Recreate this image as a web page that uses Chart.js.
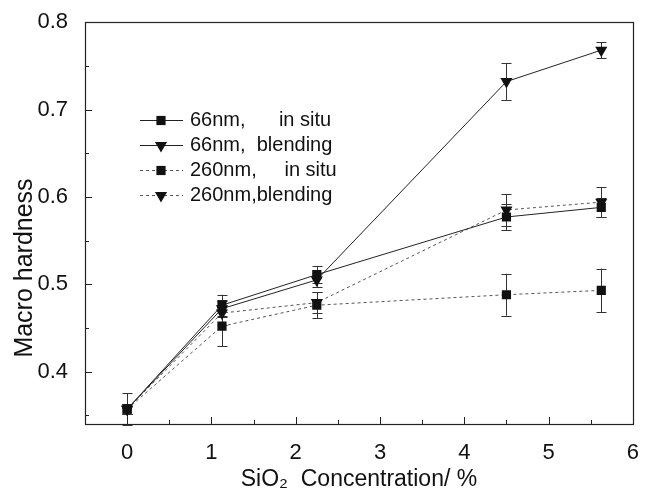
<!DOCTYPE html>
<html>
<head>
<meta charset="utf-8">
<script src="https://cdn.jsdelivr.net/npm/chart.js@4.4.1/dist/chart.umd.min.js"></script>
<style>
  html, body { margin: 0; padding: 0; background: #fff; }
  #wrap { width: 647px; height: 493px; }
</style>
</head>
<body>
<div id="wrap"><canvas id="c" width="647" height="493"></canvas></div>
<script>
// ---- data ----
const concentrations = [0, 1.125, 2.25, 4.5, 5.625];
const seriesLabels = ["66nm,      in situ", "66nm,  blending", "260nm,     in situ", "260nm,blending"];
const hardness66InSitu = [0.357, 0.476, 0.511, 0.577, 0.588];
const hardness66Blend = [0.357, 0.472, 0.505, 0.732, 0.768];
const hardness260InSitu = [0.357, 0.452, 0.476, 0.488, 0.493];
const hardness260Blend = [0.357, 0.467, 0.479, 0.585, 0.594];
const err66InSitu = [0.018, 0.012, 0.010, 0.015, 0.011];
const err66Blend = [0.006, 0.010, 0.008, 0.021, 0.009];
const err260InSitu = [0.006, 0.023, 0.015, 0.024, 0.025];
const err260Blend = [0.006, 0.014, 0.012, 0.018, 0.017];
const xTickValues = [0, 1, 2, 3, 4, 5, 6];
const yTickValues = [0.4, 0.5, 0.6, 0.7, 0.8];
const xTitle = "SiO\u2082  Concentration/ %";
const yTitle = "Macro hardness";

const FONT = "'Liberation Sans', Arial, Helvetica, sans-serif";

function pts(ys) { return ys.map((y, i) => ({ x: concentrations[i], y: y })); }

const seriesDefs = [
  { ys: hardness66InSitu, err: err66InSitu, marker: 'rect', dash: [], rot: 0 },
  { ys: hardness66Blend, err: err66Blend, marker: 'triangle', dash: [], rot: 180 },
  { ys: hardness260InSitu, err: err260InSitu, marker: 'rect', dash: [3, 3], rot: 0 },
  { ys: hardness260Blend, err: err260Blend, marker: 'triangle', dash: [3, 3], rot: 180 }
];

const datasets = seriesDefs.map((s, i) => ({
  label: seriesLabels[i],
  data: pts(s.ys),
  errors: s.err,
  showLine: true,
  borderColor: i < 2 ? '#222' : '#555',
  borderWidth: 1,
  borderDash: s.dash,
  pointStyle: s.marker,
  rotation: s.rot,
  pointRadius: s.marker === 'rect' ? 6.5 : 7,
  pointBackgroundColor: '#111',
  pointBorderColor: '#111',
  pointBorderWidth: 0,
  tension: 0
}));

const errorBarPlugin = {
  id: 'errorBars',
  beforeDatasetsDraw(chart) {
    const ctx = chart.ctx;
    const xs = chart.scales.x, ys = chart.scales.y;
    ctx.save();
    ctx.strokeStyle = '#333';
    ctx.lineWidth = 1;
    chart.data.datasets.forEach(ds => {
      ds.data.forEach((p, i) => {
        const e = ds.errors[i];
        const px = Math.round(xs.getPixelForValue(p.x)) + 0.5;
        const top = ys.getPixelForValue(p.y + e);
        const bot = ys.getPixelForValue(p.y - e);
        ctx.beginPath();
        ctx.moveTo(px, top); ctx.lineTo(px, bot);
        ctx.moveTo(px - 5, Math.round(top) + 0.5); ctx.lineTo(px + 5, Math.round(top) + 0.5);
        ctx.moveTo(px - 5, Math.round(bot) + 0.5); ctx.lineTo(px + 5, Math.round(bot) + 0.5);
        ctx.stroke();
      });
    });
    ctx.restore();
  }
};

const framePlugin = {
  id: 'frame',
  afterDraw(chart) {
    const ctx = chart.ctx;
    const a = chart.chartArea;
    const xs = chart.scales.x, ys = chart.scales.y;
    ctx.save();
    ctx.strokeStyle = '#222';
    ctx.lineWidth = 1.2;
    ctx.strokeRect(Math.round(a.left) + 0.5, Math.round(a.top) + 0.5,
                   Math.round(a.right - a.left), Math.round(a.bottom - a.top));
    ctx.lineWidth = 1;
    ctx.beginPath();
    for (let v = -0.5; v <= 6.0001; v += 0.5) {
      const px = Math.round(xs.getPixelForValue(v)) + 0.5;
      const major = Math.abs(v - Math.round(v)) < 1e-6;
      const len = major ? 7 : 4;
      ctx.moveTo(px, a.bottom); ctx.lineTo(px, a.bottom - len);
    }
    for (let v = 0.35; v <= 0.8001; v += 0.05) {
      const py = Math.round(ys.getPixelForValue(v)) + 0.5;
      const major = Math.abs(v * 10 - Math.round(v * 10)) < 1e-6;
      const len = major ? 7 : 4;
      ctx.moveTo(a.left, py); ctx.lineTo(a.left + len, py);
    }
    ctx.stroke();
    // y-axis title (placed slightly below the axis centre, as in the reference)
    ctx.translate(25, 268);
    ctx.rotate(-Math.PI / 2);
    ctx.font = "25px " + FONT;
    ctx.fillStyle = '#111';
    ctx.textAlign = 'center';
    ctx.textBaseline = 'middle';
    ctx.fillText(yTitle, 0, 0);
    ctx.restore();
  }
};

const legendPlugin = {
  id: 'insideLegend',
  afterDraw(chart) {
    const ctx = chart.ctx;
    const x0 = 140, x1 = 183, mx = 161, tx = 190;
    const y0 = 120, dy = 25;
    ctx.save();
    ctx.font = "20px " + FONT;
    ctx.textBaseline = 'middle';
    chart.data.datasets.forEach((ds, i) => {
      const y = y0 + i * dy + 0.5;
      ctx.strokeStyle = ds.borderColor;
      ctx.lineWidth = 1;
      ctx.setLineDash(ds.borderDash);
      ctx.beginPath(); ctx.moveTo(x0, y); ctx.lineTo(x1, y); ctx.stroke();
      ctx.setLineDash([]);
      ctx.fillStyle = '#111';
      ctx.strokeStyle = '#111';
      Chart.helpers.drawPoint(ctx, {
        pointStyle: ds.pointStyle, rotation: ds.rotation, radius: ds.pointRadius, borderWidth: 0
      }, mx, y);
      ctx.fillStyle = '#111';
      ctx.fillText(ds.label, tx, y);
    });
    ctx.restore();
  }
};

new Chart(document.getElementById('c'), {
  type: 'scatter',
  data: { datasets: datasets },
  options: {
    responsive: false,
    animation: false,
    layout: { padding: { left: 0, right: 9, top: 21, bottom: 0 } },
    plugins: { legend: { display: false }, tooltip: { enabled: false } },
    scales: {
      x: {
        type: 'linear', min: -0.5, max: 6,
        afterBuildTicks(scale) { scale.ticks = xTickValues.map(v => ({ value: v })); },
        afterFit(scale) { scale.height = 69; },
        grid: { display: false },
        border: { display: false },
        ticks: { color: '#111', font: { family: FONT, size: 22 }, padding: 8, maxRotation: 0,
                 callback: v => String(v) },
        title: { display: true, text: xTitle, color: '#111', font: { family: FONT, size: 23 },
                 padding: { top: 0, bottom: 0 } }
      },
      y: {
        type: 'linear', min: 0.34, max: 0.8,
        afterBuildTicks(scale) { scale.ticks = yTickValues.map(v => ({ value: v })); },
        afterFit(scale) { scale.width = 85; },
        grid: { display: false },
        border: { display: false },
        ticks: { color: '#111', font: { family: FONT, size: 22 }, padding: 9,
                 callback: v => v.toFixed(1) },
        title: { display: false, text: yTitle }
      }
    }
  },
  plugins: [errorBarPlugin, framePlugin, legendPlugin]
});
</script>
</body>
</html>
